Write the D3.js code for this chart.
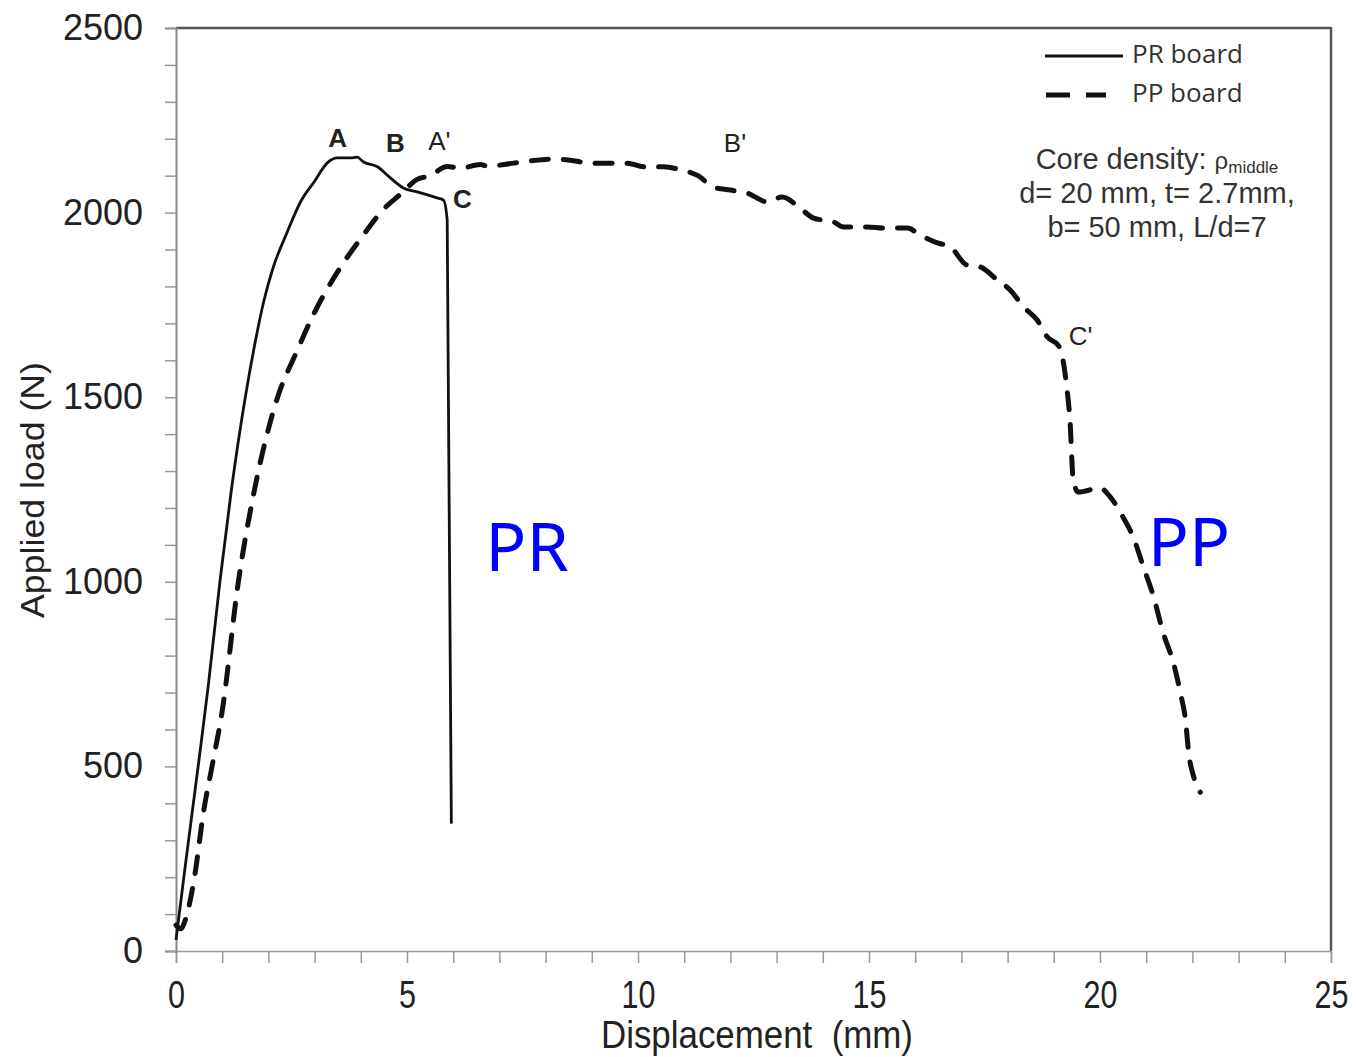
<!DOCTYPE html>
<html>
<head>
<meta charset="utf-8">
<script src="https://cdn.jsdelivr.net/npm/d3@7/dist/d3.min.js"></script>
<style>
  body { margin: 0; background: #fff; }
  svg { display: block; }
  text { font-family: "Liberation Sans", Arial, sans-serif; }
</style>
</head>
<body>
<svg id="chart" width="1356" height="1057"></svg>
<script>
// ---- data ----
const prX = [0, 0.2, 0.5, 0.7, 0.95, 1.2, 1.5, 1.7, 1.9, 2.1, 2.4, 2.7, 3.0, 3.27, 3.49, 3.77, 3.92, 4.06, 4.36, 4.64, 4.93, 5.22, 5.65, 5.79, 5.87, 5.96];
const prY = [30, 230, 520, 720, 1000, 1250, 1500, 1640, 1760, 1850, 1945, 2030, 2085, 2134, 2148, 2148, 2150, 2137, 2124, 2094, 2066, 2056, 2040, 2034, 1980, 345];

const ppX = [0, 0.1, 0.26, 0.4, 0.6, 0.78, 1.0, 1.35, 1.7, 2.2, 2.6, 3.0, 3.5, 4.0, 4.5, 4.86, 5.22, 5.5, 5.87, 6.15, 6.59, 6.74, 7.31, 7.67, 8.17, 8.53, 8.97, 9.33, 9.77, 10.12, 10.55, 10.92, 11.3, 11.63, 12.0, 12.36, 12.8, 13.12, 13.51, 13.8, 14.23, 14.45, 14.96, 15.32, 15.83, 16.11, 16.48, 16.76, 17.12, 17.4, 17.78, 18.06, 18.35, 18.64, 18.86, 19.1, 19.2, 19.28, 19.35, 19.42, 19.53, 20.0, 20.22, 20.5, 20.72, 20.94, 21.16, 21.37, 21.59, 21.74, 21.85, 21.92, 22.03, 22.17];
const ppY = [70, 60, 111, 200, 380, 500, 650, 1000, 1250, 1500, 1620, 1730, 1840, 1930, 2010, 2050, 2090, 2100, 2125, 2120, 2130, 2126, 2134, 2140, 2145, 2142, 2134, 2134, 2134, 2124, 2124, 2116, 2100, 2069, 2061, 2053, 2029, 2042, 2012, 1985, 1975, 1961, 1961, 1958, 1958, 1939, 1918, 1907, 1858, 1853, 1817, 1790, 1744, 1709, 1663, 1640, 1600, 1528, 1438, 1276, 1243, 1254, 1230, 1175, 1121, 1040, 959, 861, 780, 699, 626, 536, 471, 430];

const xTicks = d3.range(0, 26, 1);
const xTickLabels = [0, 5, 10, 15, 20, 25];
const yTicks = d3.range(0, 2501, 100);
const yTickLabels = [0, 500, 1000, 1500, 2000, 2500];

const pointLabels = [
  { t: "A", x: 3.5, y: 2195, bold: true },
  { t: "B", x: 4.75, y: 2182, bold: true },
  { t: "A'", x: 5.7, y: 2188, bold: false },
  { t: "C", x: 6.2, y: 2030, bold: true },
  { t: "B'", x: 12.1, y: 2182, bold: false },
  { t: "C'", x: 19.58, y: 1660, bold: false }
];

// ---- layout ----
const svg = d3.select("#chart");
const L = 176, T = 28, R = 1331, B = 951;
const x = d3.scaleLinear().domain([0, 25]).range([L, R]);
const y = d3.scaleLinear().domain([0, 2500]).range([B, T]);

// frame: top & right
svg.append("line").attr("x1", L).attr("x2", R).attr("y1", T).attr("y2", T)
  .attr("stroke", "#555").attr("stroke-width", 2.5);
svg.append("line").attr("x1", R).attr("x2", R).attr("y1", T - 1).attr("y2", B)
  .attr("stroke", "#555").attr("stroke-width", 2.5);

// x axis
const xAxis = d3.axisBottom(x).tickValues(xTicks).tickSize(12)
  .tickFormat(d => xTickLabels.includes(d) ? d : "");
const gx = svg.append("g").attr("transform", `translate(0,${B})`).call(xAxis);
gx.select(".domain").attr("stroke", "#999").attr("stroke-width", 1.5);
gx.selectAll(".tick line").attr("stroke", "#999").attr("stroke-width", 1.5);
gx.selectAll(".tick text").attr("font-size", 38).attr("fill", "#222")
  .attr("y", 57).attr("dy", 0)
  .style("font-family", "'Liberation Sans', Arial, sans-serif")
  .each(function(d) {
    if (xTickLabels.includes(d)) {
      d3.select(this).attr("textLength", 17 * String(d).length).attr("lengthAdjust", "spacingAndGlyphs");
    }
  });

// y axis
const yAxis = d3.axisLeft(y).tickValues(yTicks).tickSize(11)
  .tickFormat(d => yTickLabels.includes(d) ? d : "");
const gy = svg.append("g").attr("transform", `translate(${L},0)`).call(yAxis);
gy.select(".domain").attr("stroke", "#888").attr("stroke-width", 2);
gy.selectAll(".tick line").attr("stroke", "#999").attr("stroke-width", 1.5);
gy.selectAll(".tick text").attr("font-size", 36).attr("fill", "#222")
  .attr("x", -33).style("font-family", "'Liberation Sans', Arial, sans-serif");

// axis titles
svg.append("text").attr("x", 757).attr("y", 1048).attr("text-anchor", "middle")
  .attr("font-size", 38).attr("fill", "#222")
  .attr("textLength", 312).attr("lengthAdjust", "spacingAndGlyphs")
  .style("white-space", "pre").text("Displacement  (mm)");
svg.append("text").attr("transform", "translate(44,490) rotate(-90)")
  .attr("text-anchor", "middle").attr("font-size", 34).attr("fill", "#222")
  .attr("textLength", 256).attr("lengthAdjust", "spacingAndGlyphs")
  .text("Applied load (N)");

// lines
const line = d3.line().x(d => x(d[0])).y(d => y(d[1])).curve(d3.curveMonotoneX);
svg.append("path").datum(prX.map((v, i) => [v, prY[i]]))
  .attr("d", line).attr("fill", "none").attr("stroke", "#111").attr("stroke-width", 2.8)
  .attr("stroke-linejoin", "round");
svg.append("path").datum(ppX.map((v, i) => [v, ppY[i]]))
  .attr("d", line).attr("fill", "none").attr("stroke", "#111").attr("stroke-width", 5)
  .attr("stroke-dasharray", "17,15").attr("stroke-linecap", "round");

// point labels
pointLabels.forEach(p => {
  svg.append("text").attr("x", x(p.x)).attr("y", y(p.y)).attr("text-anchor", "middle")
    .attr("dominant-baseline", "middle")
    .attr("font-size", 26).attr("font-weight", p.bold ? "bold" : "normal")
    .attr("fill", "#222").text(p.t);
});

// big curve names
svg.append("text").attr("x", 527).attr("y", 571).attr("text-anchor", "middle")
  .attr("font-size", 68).attr("fill", "#0000ff")
  .style("font-family", "'Noto Sans', 'DejaVu Sans', sans-serif").text("PR");
svg.append("text").attr("x", 1189).attr("y", 566).attr("text-anchor", "middle")
  .attr("font-size", 68).attr("fill", "#0000ff")
  .style("font-family", "'Noto Sans', 'DejaVu Sans', sans-serif").text("PP");

// legend
svg.append("line").attr("x1", 1045).attr("x2", 1123).attr("y1", 56).attr("y2", 56)
  .attr("stroke", "#111").attr("stroke-width", 2.8);
svg.append("line").attr("x1", 1046).attr("x2", 1106).attr("y1", 95).attr("y2", 95)
  .attr("stroke", "#111").attr("stroke-width", 5).attr("stroke-dasharray", "24,16");
svg.append("text").attr("x", 1132).attr("y", 56).attr("dominant-baseline", "middle")
  .attr("font-size", 26).attr("fill", "#333")
  .style("font-family", "'Open Sans', 'Noto Sans', sans-serif").text("PR board");
svg.append("text").attr("x", 1132).attr("y", 95).attr("dominant-baseline", "middle")
  .attr("font-size", 26).attr("fill", "#333")
  .style("font-family", "'Open Sans', 'Noto Sans', sans-serif").text("PP board");

// annotation
const ann = svg.append("text").attr("text-anchor", "middle").attr("font-size", 29).attr("fill", "#333");
const l1 = ann.append("tspan").attr("x", 1157).attr("y", 169);
l1.append("tspan").text("Core density: ");
l1.append("tspan").attr("font-size", 24).text("ρ");
l1.append("tspan").attr("font-size", 17).attr("dy", 4).text("middle");
ann.append("tspan").attr("x", 1157).attr("y", 203).text("d= 20 mm, t= 2.7mm,");
ann.append("tspan").attr("x", 1157).attr("y", 237).text("b= 50 mm, L/d=7");
</script>
</body>
</html>
